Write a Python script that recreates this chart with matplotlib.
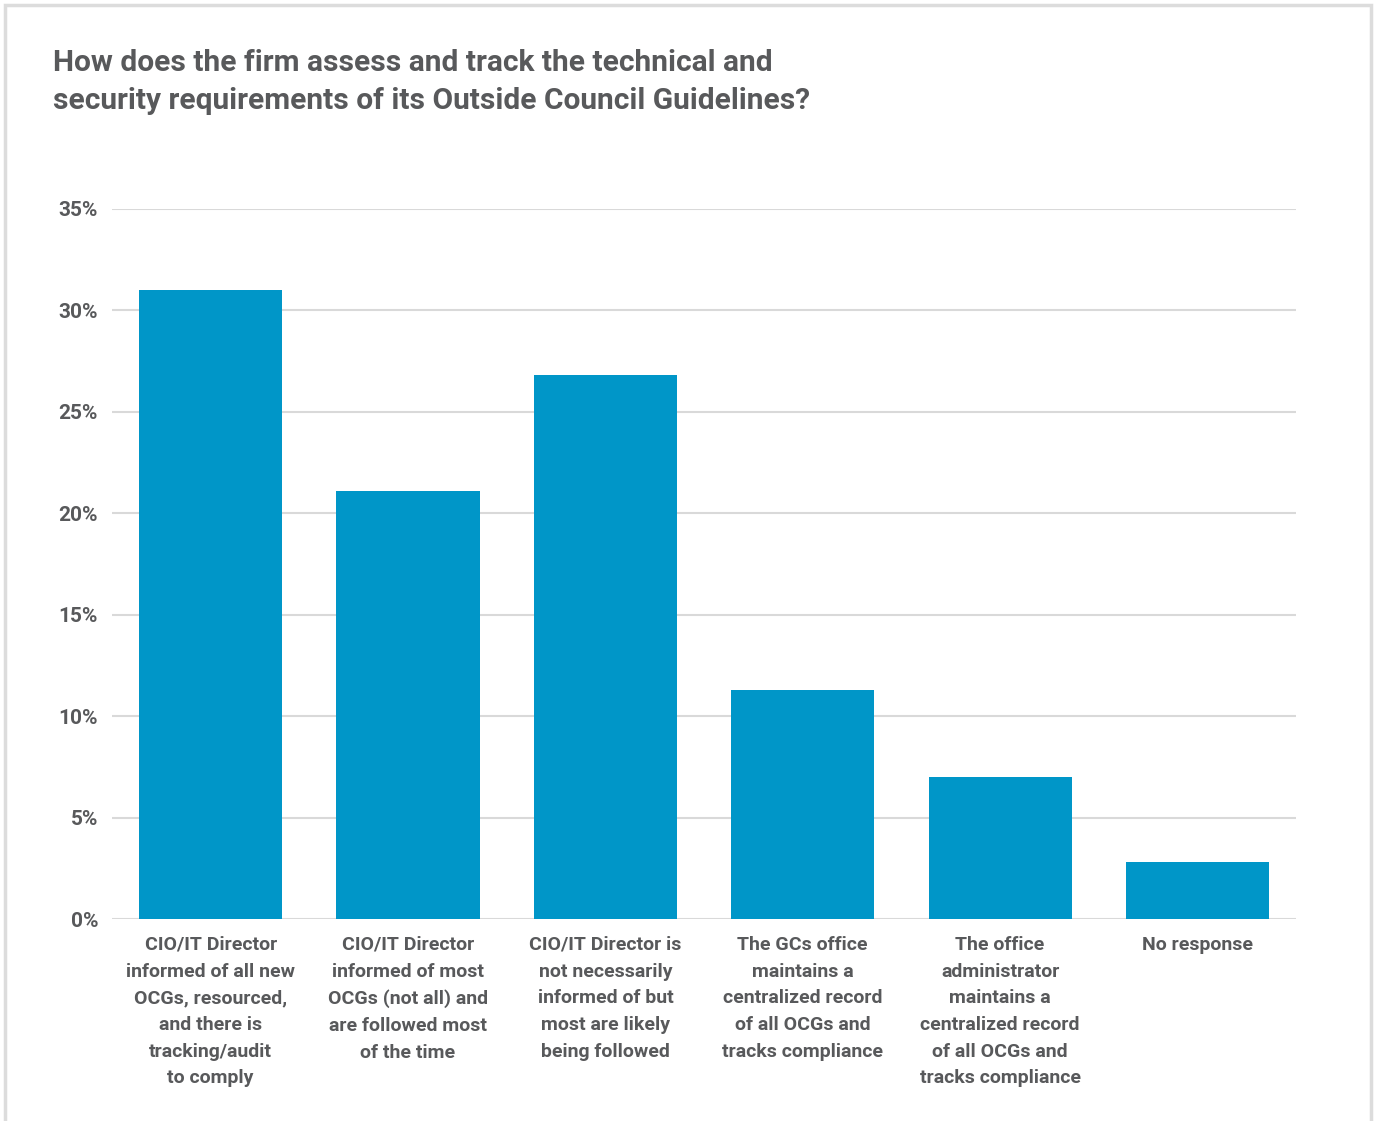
import matplotlib
matplotlib.use("Agg")
import matplotlib.pyplot as plt
from matplotlib.patches import Rectangle

categories = [
    "CIO/IT Director\ninformed of all new\nOCGs, resourced,\nand there is\ntracking/audit\nto comply",
    "CIO/IT Director\ninformed of most\nOCGs (not all) and\nare followed most\nof the time",
    "CIO/IT Director is\nnot necessarily\ninformed of but\nmost are likely\nbeing followed",
    "The GCs office\nmaintains a\ncentralized record\nof all OCGs and\ntracks compliance",
    "The office\nadministrator\nmaintains a\ncentralized record\nof all OCGs and\ntracks compliance",
    "No response",
]
values = [31.0, 21.1, 26.8, 11.3, 7.0, 2.8]
yticks = [0, 5, 10, 15, 20, 25, 30, 35]

fam = ["Roboto", "DejaVu Sans"]
txt = "#58595b"
plt.rcParams["font.family"] = fam

fig = plt.figure(figsize=(13.77, 11.21), dpi=100)
# outer frame
fig.patches.append(Rectangle((0.0036, -0.01), 0.9920, 1.0055, transform=fig.transFigure,
                             fill=False, edgecolor="#dcdcdc", linewidth=2.5))

ax = fig.add_axes([0.0813, 0.180, 0.8600, 0.6336])
x = range(len(values))
ax.bar(x, values, width=0.725, color="#0096c8", zorder=3)
ax.set_xlim(-0.5, len(values) - 0.5)
ax.set_ylim(0, 35)
ax.set_yticks(yticks)
ax.set_yticklabels([f"{t}%" for t in yticks], fontsize=15, fontweight="bold", color=txt)
ax.set_xticks(list(x))
ax.set_xticklabels(categories, fontsize=14, fontweight="bold", color=txt,
                   linespacing=1.62, va="top")
ax.tick_params(length=0, pad=10)
ax.tick_params(axis="x", pad=12)
ax.grid(axis="y", color="#d9d9d9", linewidth=1.5, zorder=0)
for s in ax.spines.values():
    s.set_visible(False)

fig.text(0.0385, 0.956, "How does the firm assess and track the technical and\nsecurity requirements of its Outside Council Guidelines?",
         fontsize=21.5, fontweight="bold", color=txt, va="top", ha="left", linespacing=1.42)

fig.savefig("out.png", dpi=100)
